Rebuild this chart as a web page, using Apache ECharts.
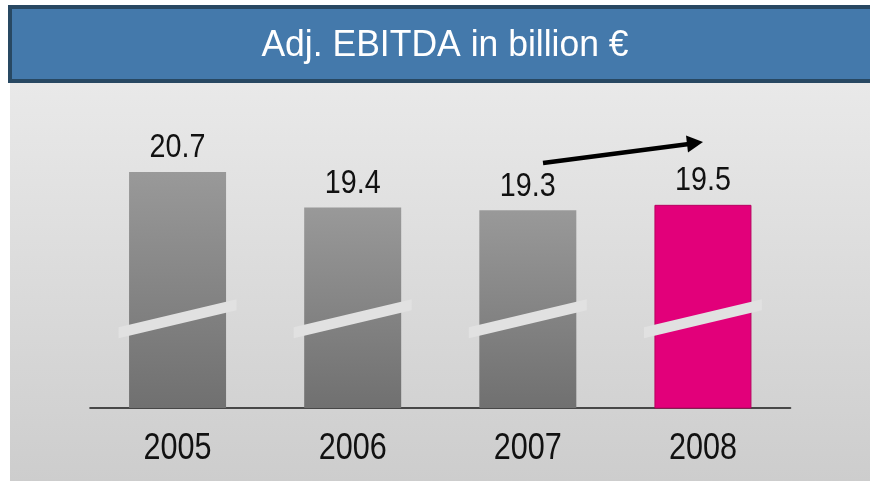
<!DOCTYPE html>
<html>
<head>
<meta charset="utf-8">
<script src="https://cdn.jsdelivr.net/npm/echarts@6/dist/echarts.min.js"></script>
<style>
  html, body { margin: 0; padding: 0; background: #ffffff; }
  #chart { width: 870px; height: 481px; }
</style>
</head>
<body>
<div id="chart"></div>
<script>
// Adjusted EBITDA per fiscal year, in billion euro
const years = ['2005', '2006', '2007', '2008'];
const ebitda = [20.7, 19.4, 19.3, 19.5];
const highlightYear = '2008';

const titleText = 'Adj. EBITDA in billion €';
const FONT = '"Liberation Sans", Arial, sans-serif';

// Value on the (broken) axis where the white break stripe crosses each bar
const BREAK_AT = 15.35;
const Y_MIN = 12.1;
const Y_MAX = 23.1;

const greyFill = {
  type: 'linear', x: 0, y: 0, x2: 0, y2: 1,
  colorStops: [{ offset: 0, color: '#999999' }, { offset: 1, color: '#707070' }]
};

const chart = echarts.init(document.getElementById('chart'), null, { renderer: 'canvas' });

chart.setOption({
  animation: false,
  backgroundColor: '#ffffff',
  grid: { left: 90, right: 79.5, top: 106, bottom: 73, containLabel: false },
  xAxis: {
    type: 'category',
    data: years,
    boundaryGap: true,
    axisLine: { show: true, lineStyle: { color: '#1a1a1a', width: 1.6 } },
    axisTick: { show: false },
    axisLabel: { show: false },
    splitLine: { show: false }
  },
  yAxis: { type: 'value', min: Y_MIN, max: Y_MAX, show: false },
  graphic: [
    {
      // grey backdrop of the chart panel
      type: 'rect', z: -10, silent: true,
      shape: { x: 10, y: 83, width: 860, height: 398 },
      style: {
        fill: {
          type: 'linear', x: 0, y: 0, x2: 0, y2: 1,
          colorStops: [{ offset: 0, color: '#e9e9e9' }, { offset: 1, color: '#cdcdcd' }]
        }
      }
    },
    {
      // header bar
      type: 'rect', z: -5, silent: true,
      shape: { x: 10, y: 7, width: 870, height: 74 },
      style: { fill: '#4479ab', stroke: '#284862', lineWidth: 4 }
    },
    {
      type: 'text', z: -4, silent: true,
      x: 445, y: 46, scaleX: 0.96,
      style: {
        text: titleText, fill: '#ffffff',
        font: '37px ' + FONT,
        textAlign: 'center', textVerticalAlign: 'middle'
      }
    },
    {
      // growth arrow 2007 -> 2008
      type: 'line', z: 50, silent: true,
      shape: { x1: 543, y1: 163, x2: 689, y2: 144 },
      style: { stroke: '#000000', lineWidth: 4.5 }
    },
    {
      type: 'polygon', z: 50, silent: true,
      shape: { points: [[703, 142], [686, 135.5], [688, 152.5]] },
      style: { fill: '#000000' }
    }
  ],
  series: [
    {
      type: 'bar',
      data: years.map((y, i) => ({
        value: ebitda[i],
        itemStyle: y === highlightYear
          ? { color: '#e2007a', borderColor: '#b8005f', borderWidth: 1 }
          : { color: greyFill }
      })),
      barWidth: 97,
      z: 2,
      label: { show: false }
    },
    {
      // break marks across each bar, value labels above, year labels below
      type: 'custom',
      z: 5,
      silent: true,
      data: years.map((y, i) => [i, ebitda[i]]),
      renderItem: function (params, api) {
        const idx = api.value(0);
        const val = api.value(1);
        const b = api.coord([idx, BREAK_AT]);
        const top = api.coord([idx, val]);
        const base = api.coord([idx, Y_MIN]);
        const half = 59, rise = 14, th = 5.5;
        return {
          type: 'group',
          children: [
            {
              type: 'polygon',
              shape: {
                points: [
                  [b[0] - half, b[1] + rise - th],
                  [b[0] + half, b[1] - rise - th],
                  [b[0] + half, b[1] - rise + th],
                  [b[0] - half, b[1] + rise + th]
                ]
              },
              style: { fill: '#e1e1e1' }
            },
            {
              type: 'text',
              x: top[0], y: top[1] - 7, scaleX: 0.87,
              style: {
                text: val.toFixed(1), fill: '#111111',
                font: '33px ' + FONT,
                textAlign: 'center', textVerticalAlign: 'bottom'
              }
            },
            {
              type: 'text',
              x: base[0], y: base[1] + 41, scaleX: 0.85,
              style: {
                text: years[idx], fill: '#111111',
                font: '36px ' + FONT,
                textAlign: 'center', textVerticalAlign: 'middle'
              }
            }
          ]
        };
      }
    }
  ]
});
</script>
</body>
</html>
